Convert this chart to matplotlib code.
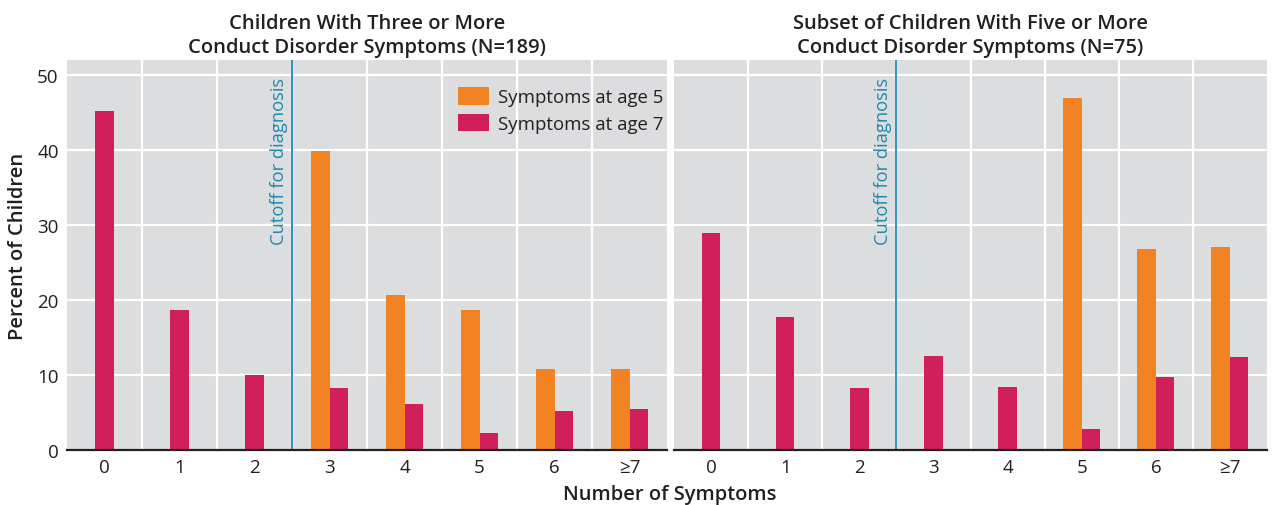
import matplotlib
matplotlib.use("Agg")
import matplotlib.pyplot as plt
from matplotlib.ticker import FixedLocator
import numpy as np

# values (percent of children)
categories = ["0", "1", "2", "3", "4", "5", "6", "\u22657"]

age5_three_plus = [0, 0, 0, 39.9, 20.7, 18.7, 10.8, 10.8]
age7_three_plus = [45.2, 18.7, 10.0, 8.3, 6.2, 2.3, 5.2, 5.5]

age5_five_plus = [0, 0, 0, 0, 0, 46.9, 26.8, 27.1]
age7_five_plus = [28.9, 17.7, 8.3, 12.5, 8.4, 2.8, 9.8, 12.4]

panel_titles = [
    "Children With Three or More\nConduct Disorder Symptoms (N=189)",
    "Subset of Children With Five or More\nConduct Disorder Symptoms (N=75)",
]
cutoff = 2.5

ORANGE = "#F28322"
MAGENTA = "#D11F5B"
BG = "#DCDDDF"
CUTOFF_BLUE = "#1F8AB0"
TEXT = "#231F20"

plt.rcParams["font.family"] = ["Open Sans", "DejaVu Sans"]
plt.rcParams["text.color"] = TEXT

fig = plt.figure(figsize=(12.73, 5.06), dpi=100)
ax_left = fig.add_axes([67 / 1273, 1 - 451 / 506, 600 / 1273, 390 / 506])
ax_right = fig.add_axes([674 / 1273, 1 - 451 / 506, 593 / 1273, 390 / 506],
                        sharey=ax_left)

width = 0.25
x = np.arange(len(categories))

panels = [
    (ax_left, age5_three_plus, age7_three_plus, panel_titles[0]),
    (ax_right, age5_five_plus, age7_five_plus, panel_titles[1]),
]

for ax, age5, age7, title in panels:
    ax.set_facecolor(BG)
    age5 = np.array(age5)
    age7 = np.array(age7)
    has5 = age5 > 0
    # age-7 bar is centred when there is no age-5 bar next to it
    x7 = np.where(has5, x + width / 2, x)
    ax.bar(x[has5] - width / 2, age5[has5], width, color=ORANGE,
           label="Symptoms at age 5", zorder=3)
    ax.bar(x7, age7, width, color=MAGENTA, label="Symptoms at age 7", zorder=3)

    ax.set_xlim(-0.5, len(categories) - 0.5)
    ax.set_ylim(0, 52)
    ax.set_xticks(x)
    ax.set_xticklabels(categories)
    ax.xaxis.set_minor_locator(FixedLocator(np.arange(0.5, len(categories) - 1, 1)))
    ax.set_yticks([0, 10, 20, 30, 40, 50])
    ax.grid(True, which="minor", axis="x", color="white", linewidth=1.6, zorder=1)
    ax.grid(True, which="major", axis="y", color="white", linewidth=1.6, zorder=1)
    ax.set_axisbelow(True)
    ax.tick_params(which="both", length=0, labelsize=13.5, colors=TEXT, pad=6)

    for side in ("top", "right", "left"):
        ax.spines[side].set_visible(False)
    ax.spines["bottom"].set_color(TEXT)
    ax.spines["bottom"].set_linewidth(1.6)
    ax.spines["bottom"].set_zorder(4)

    ax.axvline(cutoff, color=CUTOFF_BLUE, linewidth=1.3, zorder=4)
    ax.annotate("Cutoff for diagnosis", xy=(cutoff, 1), xycoords=("data", "axes fraction"),
                xytext=(-3, -12), textcoords="offset points", rotation=90,
                ha="right", va="top", color=CUTOFF_BLUE, fontsize=13.2)

    ax.set_title(title, fontsize=14.5, fontweight="semibold", color=TEXT, pad=6,
                 linespacing=1.25)

ax_right.tick_params(axis="y", labelleft=False)

ax_left.legend(loc="upper left", bbox_to_anchor=(0.652, 0.93), frameon=False,
               fontsize=13.4, handlelength=1.65, handleheight=1.05,
               handletextpad=0.5, labelspacing=0.4, borderpad=0, borderaxespad=0)

fig.text(18 / 1273, 1 - 246 / 506, "Percent of Children", rotation=90,
         ha="center", va="center", fontsize=14.5, fontweight="semibold")
fig.text(670 / 1273, 1 - 495 / 506, "Number of Symptoms",
         ha="center", va="center", fontsize=14.5, fontweight="semibold")

fig.savefig("out.png", dpi=100)
